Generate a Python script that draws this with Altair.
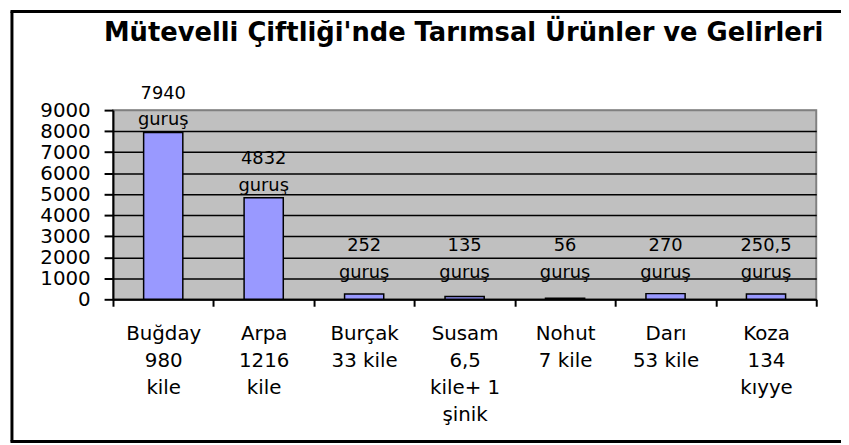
import altair as alt
import pandas as pd

# ---- data ----
categories = [
    "Buğday|980|kile",
    "Arpa|1216|kile",
    "Burçak|33 kile",
    "Susam|6,5|kile+ 1|şinik",
    "Nohut|7 kile",
    "Darı|53 kile",
    "Koza|134|kıyye",
]
values = [7940, 4832, 252, 135, 56, 270, 250.5]
value_labels = ["7940", "4832", "252", "135", "56", "270", "250,5"]
unit = "guruş"
y_ticks = [0, 1000, 2000, 3000, 4000, 5000, 6000, 7000, 8000, 9000]
title_text = "Mütevelli Çiftliği'nde Tarımsal Ürünler ve Gelirleri"

FONT = "DejaVu Sans"

df = pd.DataFrame({
    "cat": categories,
    "value": values,
    "label": [f"{v}\n{unit}" for v in value_labels],
})

x_scale = alt.Scale(paddingInner=0, paddingOuter=0)
x_axis = alt.Axis(
    labelExpr="split(datum.label, '|')",
    labelAngle=0, labelFont=FONT, labelFontSize=20, labelColor="black",
    labelLineHeight=27, labelBaseline="top", labelPadding=18, labelLimit=0,
    tickBand="extent", tickSize=7, tickWidth=2, tickColor="black",
    domainColor="black", domainWidth=2, grid=False, labelOverlap=False,
)
y_scale = alt.Scale(domain=[0, 9000], nice=False, zero=True)
y_axis = alt.Axis(
    values=y_ticks, format="d", labelFont=FONT, labelFontSize=20,
    labelColor="black", labelPadding=14, labelOverlap=False, labelFlush=False,
    tickSize=9, tickWidth=2, tickColor="black",
    domainColor="black", domainWidth=2,
    grid=True, gridWidth=1.5, gridOpacity=1,
    gridColor={"condition": {"test": "datum.value === 9000", "value": "#808080"}, "value": "black"},
)

base = alt.Chart(df)

bars = base.mark_bar(
    width=alt.RelativeBandSize(0.39), color="#9999FF", stroke="black", strokeWidth=1.5
).encode(
    x=alt.X("cat:N", sort=None, title=None, scale=x_scale, axis=x_axis),
    y=alt.Y("value:Q", title=None, scale=y_scale, axis=y_axis),
)

labels = base.transform_calculate(
    label_y="max(datum.value, 700)"
).mark_text(
    font=FONT, fontSize=18, lineBreak="\n", lineHeight=27,
    baseline="bottom", dy=-30, color="black"
).encode(
    x=alt.X("cat:N", sort=None, title=None, scale=x_scale, axis=x_axis),
    y=alt.Y("label_y:Q", title=None, scale=y_scale, axis=y_axis),
    text="label:N",
)

one = alt.Data(values=[{"k": 0}])
title_mark = alt.Chart(one).mark_text(
    text=title_text, font=FONT, fontSize=26, fontWeight="bold", color="black",
    align="center", baseline="alphabetic"
).encode(x=alt.value(354), y=alt.value(-70))

frame_left = alt.Chart(one).mark_rule(color="black", strokeWidth=3).encode(
    x=alt.value(-102), y=alt.value(-99.5), y2=alt.value(334.5))
frame_top = alt.Chart(one).mark_rule(color="black", strokeWidth=3).encode(
    x=alt.value(-103.5), x2=alt.value(740), y=alt.value(-99.5))
frame_bottom = alt.Chart(one).mark_rule(color="black", strokeWidth=3).encode(
    x=alt.value(-103.5), x2=alt.value(740), y=alt.value(334.5))

chart = alt.layer(bars, labels, title_mark, frame_left, frame_top, frame_bottom).properties(
    width=710, height=191,
    padding={"left": 106, "top": 101, "right": 25, "bottom": 145},
    autosize=alt.AutoSizeParams(type="none"),
    background="white",
).configure_view(
    fill="#C0C0C0", stroke="#808080", strokeWidth=2
)

chart.save("out.html", embed_options={"renderer": "svg", "actions": False})
